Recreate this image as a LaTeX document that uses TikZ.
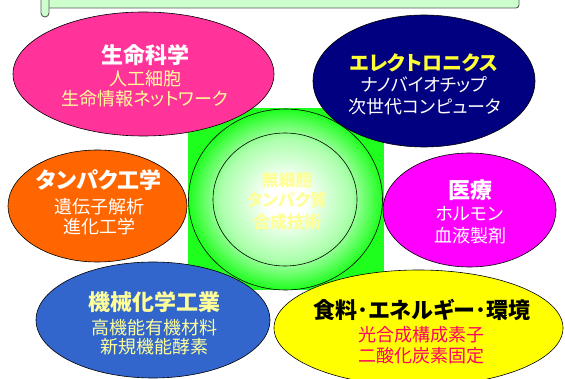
\documentclass[tikz,border=0pt]{standalone}
\usepackage{fontspec}
\newfontfamily\jp{Noto Sans CJK JP}[RawFeature=+palt]
\usetikzlibrary{shapes.geometric}
\definecolor{gcol}{RGB}{30,255,30}
\definecolor{pinkc}{RGB}{255,51,153}
\definecolor{navyc}{RGB}{0,0,128}
\definecolor{orangec}{RGB}{255,102,0}
\definecolor{magc}{RGB}{255,0,255}
\definecolor{bluec}{RGB}{51,102,204}
\definecolor{yelc}{RGB}{255,255,0}
\definecolor{lyel}{RGB}{255,255,153}
\definecolor{tyel}{RGB}{255,255,51}
\definecolor{redc}{RGB}{255,0,102}
\definecolor{scrollfill}{RGB}{204,255,204}
\definecolor{gmid}{RGB}{170,255,170}
\pgfdeclareradialshading{glow}{\pgfpointorigin}{color(0bp)=(white); color(5bp)=(white); color(17bp)=(gmid); color(25bp)=(gcol); color(50bp)=(gcol)}
\tikzset{
  blob/.style={ellipse, draw=black, line width=0.6pt, inner sep=0pt},
  ttl/.style={font=\jp\bfseries\fontsize{22}{24}\selectfont, inner sep=0pt},
  sub/.style={font=\jp\fontsize{18}{20}\selectfont, inner sep=0pt},
  ctr/.style={font=\jp\bfseries\fontsize{17}{19}\selectfont, inner sep=0pt, text=lyel},
  scrollpart/.style={fill=scrollfill, draw=gray!70!black, line width=0.9pt}
}
\begin{document}
\begin{tikzpicture}[x=1pt,y=-1pt]
\useasboundingbox (0,0) rectangle (565,379);
% scroll banner
\draw[scrollpart, rounded corners=3pt] (45,-10) -- (519,-10) -- (519,8) -- (45,8) -- cycle;
\draw[scrollpart, rounded corners=4pt] (41,-10) rectangle (49,17);
% centre
\node[fill=gcol, minimum width=196pt, minimum height=182pt, inner sep=0pt] (sq) at (285.5,199) {};
\node[ellipse, draw=black, line width=0.6pt, shading=glow, minimum width=194pt, minimum height=181pt, inner sep=0pt] (outer) at (285.5,199.5) {};
\node[ellipse, draw=black, line width=0.6pt, minimum width=144pt, minimum height=133pt, inner sep=0pt] (inner) at (285,199.5) {};
\node[ctr] (ctA) at (287,180) {無細胞};
\node[ctr] (ctB) at (287,200) {タンパク質};
\node[ctr] (ctC) at (287,222) {合成技術};
% ellipses
\node[blob, fill=pinkc, minimum width=261pt, minimum height=124pt] (pink) at (143.5,74) {};
\node[blob, fill=navyc, minimum width=222pt, minimum height=132pt] (navy) at (424,81) {};
\node[blob, fill=orangec, minimum width=179pt, minimum height=112pt] (orange) at (97.5,206) {};
\node[blob, fill=magc, minimum width=173pt, minimum height=114pt] (mag) at (469.5,210) {};
\node[blob, fill=bluec, minimum width=234pt, minimum height=116pt] (blue) at (153,320) {};
\node[blob, fill=yelc, minimum width=289pt, minimum height=116pt] (yel) at (418.5,328) {};
% texts
\node[ttl, text=white] (pinkT) at (145,55) {生命科学};
\node[sub, text=lyel] (pinkA) at (145,79) {人工細胞};
\node[sub, text=lyel] (pinkB) at (145,99) {生命情報ネットワーク};
\node[ttl, text=tyel, font=\jp\bfseries\fontsize{20}{22}\selectfont] (navyT) at (424,63) {エレクトロニクス};
\node[sub, text=white] (navyA) at (424,85) {ナノバイオチップ};
\node[sub, text=white] (navyB) at (425,107) {次世代コンピュータ};
\node[ttl, text=white] (orT) at (99,180) {タンパク工学};
\node[sub, text=white] (orA) at (99,207) {遺伝子解析};
\node[sub, text=white] (orB) at (99,227) {進化工学};
\node[ttl, text=white] (maT) at (470,190) {医療};
\node[sub, text=white] (maA) at (470,214) {ホルモン};
\node[sub, text=white] (maB) at (470,236) {血液製剤};
\node[ttl, text=lyel] (blT) at (154,302) {機械化学工業};
\node[sub, text=lyel] (blA) at (154,328) {高機能有機材料};
\node[sub, text=lyel] (blB) at (154,347) {新規機能酵素};
\node[ttl, text=black] (yeT) at (422,310) {食料･エネルギー･環境};
\node[sub, text=redc] (yeA) at (421,335) {光合成構成素子};
\node[sub, text=redc] (yeB) at (421,356) {二酸化炭素固定};
\end{tikzpicture}
\end{document}
